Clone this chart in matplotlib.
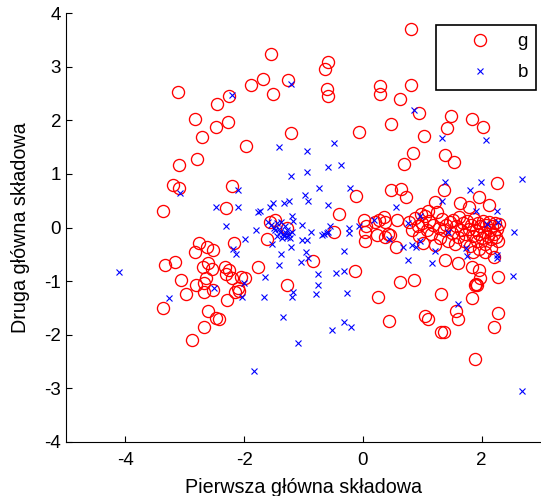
import matplotlib
matplotlib.use("Agg")
import matplotlib.pyplot as plt

plt.rcParams['font.family'] = ['Liberation Sans', 'DejaVu Sans']
plt.rcParams['axes.unicode_minus'] = False

# class "g" (red circles): first / second principal component
g_pts = [
    (0.81, 3.70), (-1.55, 3.24), (-0.58, 3.09), (-0.64, 2.95), (-3.11, 2.52),
    (-1.69, 2.77), (-1.89, 2.66), (-1.26, 2.75), (-1.52, 2.49), (-0.61, 2.58),
    (-0.58, 2.45), (0.29, 2.63), (0.29, 2.49), (0.81, 2.66), (0.63, 2.40),
    (-2.26, 2.46), (-2.45, 2.30), (-2.83, 2.02), (-2.28, 1.96), (-2.47, 1.88),
    (-2.71, 1.68), (-1.21, 1.76), (-1.97, 1.52), (-0.06, 1.79), (0.48, 1.93),
    (0.94, 2.13), (1.03, 1.71), (1.48, 2.07), (1.42, 1.85), (1.84, 2.02),
    (2.02, 1.87), (-2.79, 1.27), (-3.10, 1.17), (0.84, 1.38), (0.70, 1.18),
    (1.39, 1.36), (1.54, 1.23), (-3.19, 0.79), (-3.10, 0.73), (-2.20, 0.77),
    (-3.37, 0.30), (-2.30, 0.36), (-0.11, 0.59), (-0.41, 0.25), (0.48, 0.69),
    (0.65, 0.71), (0.73, 0.56), (1.36, 0.69), (2.26, 0.83), (1.96, 0.57),
    (1.21, 0.47), (1.63, 0.45), (2.12, 0.42), (1.79, 0.38),
    (-1.57, 0.11), (-1.48, 0.14), (-1.62, -0.22), (-1.28, 0.00), (-0.48, -0.08),
    (0.02, 0.14), (0.05, 0.03), (0.04, -0.09), (0.04, -0.25), (0.20, 0.10),
    (0.27, 0.14), (0.35, 0.20), (0.38, 0.11), (0.58, 0.14), (0.24, -0.14),
    (0.38, -0.17), (0.46, -0.14), (0.55, -0.36), (0.42, -0.12),
    (0.78, 0.10), (0.82, -0.05), (0.88, 0.18), (0.92, 0.02), (0.95, -0.15),
    (0.98, 0.25), (1.00, 0.08), (1.02, -0.28), (1.05, 0.22), (1.08, -0.05),
    (1.10, 0.30), (1.12, 0.12), (1.15, -0.12), (1.18, 0.05), (1.22, -0.32),
    (1.25, 0.28), (1.28, 0.00), (1.30, -0.20), (1.33, 0.15), (1.37, -0.05),
    (1.40, 0.05), (1.43, -0.25), (1.46, 0.10), (1.50, -0.10), (1.52, 0.14),
    (1.55, -0.30), (1.57, 0.02), (1.60, -0.18), (1.62, 0.20), (1.65, -0.05),
    (1.68, 0.08), (1.70, -0.25), (1.72, -0.12), (1.75, 0.12), (1.78, -0.02),
    (1.80, -0.35), (1.82, 0.05), (1.85, -0.15), (1.87, 0.15), (1.90, -0.05),
    (1.92, -0.25), (1.94, 0.08), (1.96, -0.12), (1.98, 0.02), (2.00, -0.20),
    (2.02, 0.12), (2.04, -0.08), (2.06, -0.30), (2.08, 0.05), (2.10, -0.15),
    (2.12, 0.10), (2.14, -0.05), (2.16, -0.22), (2.18, 0.03), (2.20, -0.12),
    (2.22, 0.08), (2.24, -0.18), (2.26, -0.02), (2.28, -0.25), (2.29, 0.06),
    (1.95, -0.40), (2.05, -0.45), (2.15, -0.38), (1.85, -0.45), (2.20, -0.55),
    (1.39, -0.61), (1.60, -0.67), (1.84, -0.73), (1.95, -0.79), (1.98, -0.95),
    (1.93, -1.07), (2.28, -0.92),
    (-2.76, -0.28), (-2.82, -0.46), (-2.63, -0.36), (-2.53, -0.42), (-3.34, -0.70),
    (-3.16, -0.64), (-2.61, -0.67), (-2.69, -0.74), (-2.54, -0.78), (-2.33, -0.73),
    (-2.31, -0.87), (-3.07, -0.98), (-2.81, -1.07), (-2.67, -1.04), (-2.64, -0.95),
    (-2.53, -1.17), (-2.67, -1.20), (-2.98, -1.24), (-2.17, -0.28), (-1.76, -0.74),
    (-0.84, -0.63), (-0.13, -0.81), (-1.28, -1.07), (-2.25, -0.80), (-2.20, -0.95),
    (-2.10, -1.12), (-2.05, -0.92), (-1.98, -0.94), (-2.15, -1.20), (-2.08, -1.18),
    (-2.29, -1.36), (-3.37, -1.51), (-2.87, -2.09), (-2.67, -1.85), (-2.61, -1.56),
    (-2.47, -1.68), (-2.42, -1.71), (0.63, -1.01), (0.86, -0.98), (1.31, -1.24),
    (0.26, -1.29), (1.84, -1.32), (1.57, -1.56), (1.61, -1.71), (2.28, -1.59),
    (2.21, -1.85), (0.44, -1.74), (1.04, -1.65), (1.10, -1.71), (1.31, -1.94),
    (1.36, -1.94), (1.89, -2.46), (1.90, -1.05), (1.88, -1.08),
]

# class "b" (blue crosses)
b_pts = [
    (-4.10, -0.83), (-3.26, -1.32), (-3.08, 0.65), (-2.21, 2.47), (-1.21, 2.68),
    (-1.42, 1.50), (-0.94, 1.43), (-0.48, 1.58), (-0.58, 1.12), (-0.37, 1.17),
    (-0.94, 1.04), (-1.21, 0.96), (0.86, 2.19), (1.34, 1.66), (2.08, 1.63),
    (2.68, 0.90), (1.39, 0.84), (1.99, 0.84), (1.81, 0.70), (1.34, 0.50),
    (0.55, 0.38), (1.90, 0.30), (2.26, 0.30), (0.18, 0.14), (0.76, 0.08),
    (0.97, 0.21), (2.09, 0.07), (2.28, 0.11), (1.44, -0.08), (2.55, -0.08),
    (0.44, -0.22), (0.68, -0.37), (0.82, -0.33), (0.89, -0.37), (0.97, -0.26),
    (1.22, -0.43), (1.73, -0.39), (1.76, -0.53), (2.26, -0.51), (2.26, -0.56),
    (0.76, -0.61), (1.16, -0.67), (2.52, -0.90), (1.61, -1.43), (2.68, -3.05),
    (-0.74, 0.73), (-0.21, 0.73), (-2.10, 0.70), (-0.97, 0.61), (-0.92, 0.50),
    (-0.58, 0.42), (-2.47, 0.38), (-2.10, 0.38), (-1.51, 0.46), (-1.56, 0.39),
    (-1.73, 0.31), (-1.77, 0.28), (-1.33, 0.45), (-1.25, 0.50), (-1.20, 0.22),
    (-2.31, 0.03), (-1.80, -0.05), (-1.03, 0.05), (-0.87, -0.09), (-1.02, -0.24),
    (-0.94, -0.23), (-0.69, -0.14), (-0.61, -0.10), (-0.55, 0.03), (-0.24, 0.00),
    (-0.24, -0.11), (-0.07, 0.03), (-1.98, -0.22), (-2.18, -0.41), (-2.13, -0.49),
    (-1.53, -0.31), (-1.38, -0.49), (-1.21, -0.37), (-0.95, -0.45), (-0.92, -0.56),
    (-1.04, -0.65), (-1.42, -0.70), (-0.32, -0.43), (-0.76, -0.87), (-0.45, -0.84),
    (-0.32, -0.82), (-1.65, -0.92), (-0.76, -1.07), (-0.79, -1.24), (-1.17, -1.20),
    (-1.20, -1.29), (-0.27, -1.22), (-1.66, -1.30), (-2.01, -1.04), (-2.04, -1.29),
    (-2.50, -1.13), (-1.34, -1.66), (-0.52, -1.91), (-0.32, -1.77), (-0.20, -1.86),
    (-1.10, -2.15), (-1.84, -2.68), (-0.58, -0.08), (-0.65, -0.12),
    (-1.55, 0.05), (-1.50, 0.00), (-1.48, -0.05), (-1.45, 0.08), (-1.42, -0.02),
    (-1.40, -0.08), (-1.38, 0.10), (-1.35, -0.12), (-1.33, -0.15), (-1.30, -0.10),
    (-1.28, -0.18), (-1.27, -0.05), (-1.25, -0.13), (-1.22, -0.20), (-1.20, -0.08),
    (-1.18, 0.12), (-1.60, 0.10), (-1.45, -0.15), (-1.32, 0.03), (-1.37, -0.20),
]

g_x = [p[0] for p in g_pts]
g_y = [p[1] for p in g_pts]
b_x = [p[0] for p in b_pts]
b_y = [p[1] for p in b_pts]

x_ticks = [-4, -2, 0, 2]
y_ticks = [-4, -3, -2, -1, 0, 1, 2, 3, 4]

W, H = 541, 496
fig = plt.figure(figsize=(W / 100, H / 100), dpi=100)
ax = fig.add_axes([66 / W, 54 / H, (541 - 66) / W, (442 - 13) / H])

ax.plot(g_x, g_y, linestyle='none', marker='o', markersize=8.7, markerfacecolor='none',
        markeredgecolor='#ff0000', markeredgewidth=0.95, label='g')
ax.plot(b_x, b_y, linestyle='none', marker='x', markersize=4.6,
        markeredgecolor='#0000ff', markeredgewidth=0.8, label='b')

ax.set_xlim(-5, 3)
ax.set_ylim(-4, 4)
ax.set_xticks(x_ticks)
ax.set_yticks(y_ticks)
ax.spines['top'].set_visible(False)
ax.spines['right'].set_visible(False)
for s in ('left', 'bottom'):
    ax.spines[s].set_linewidth(0.8)
    ax.spines[s].set_color('black')
ax.tick_params(direction='in', length=4.3, width=0.8, labelsize=13.5, colors='black')
ax.tick_params(axis='x', pad=7)
ax.tick_params(axis='y', pad=3.5)

ax.set_xlabel('Pierwsza główna składowa', fontsize=14.2)
ax.set_ylabel('Druga główna składowa', fontsize=14.2)
ax.xaxis.set_label_coords(0.5, -0.083)
ax.yaxis.set_label_coords(-0.076, 0.5)

leg = ax.legend(loc='upper left', bbox_to_anchor=(436 / W, 1 - 24.5 / H),
                bbox_transform=fig.transFigure, borderaxespad=0, frameon=True,
                fancybox=False, edgecolor='black', framealpha=1, fontsize=13.5,
                borderpad=0.45, handlelength=3.8, handletextpad=0.1,
                labelspacing=0.74, numpoints=1)
leg.get_frame().set_linewidth(1.2)

fig.savefig('out.png', dpi=100)
